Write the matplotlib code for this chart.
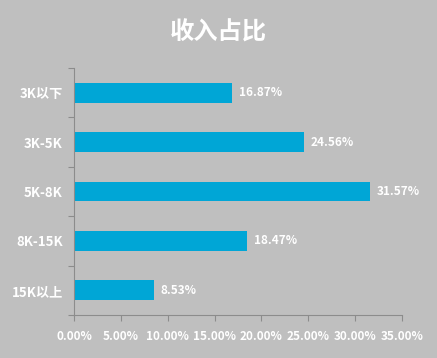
import numpy as np
import matplotlib
matplotlib.use("Agg")
import matplotlib.pyplot as plt
from matplotlib.ticker import FuncFormatter, FixedLocator

plt.rcParams['font.family'] = ['Noto Sans CJK SC', 'DejaVu Sans']

categories = ['3K以下', '3K-5K', '5K-8K', '8K-15K', '15K以上']
values = [16.87, 24.56, 31.57, 18.47, 8.53]
xticks = [0, 5, 10, 15, 20, 25, 30, 35]

bg = '#BFBFBF'
bar_color = '#00A6D6'
axis_color = '#8C8C8C'

fig = plt.figure(figsize=(4.37, 3.58), dpi=100, facecolor=bg)
ax = fig.add_axes([74 / 437, 1 - 315 / 358, 328 / 437, 247 / 358])
ax.set_facecolor(bg)

y = np.arange(len(categories))
ax.barh(y, values, height=0.4, color=bar_color, zorder=2)
for yi, v in zip(y, values):
    ax.text(v + 0.7, yi, f'{v:.2f}%', va='center', ha='left',
            color='white', fontsize=8.5, fontweight='bold')

ax.set_ylim(len(categories) - 0.5, -0.5)
ax.set_xlim(0, 35)
ax.set_yticks(y)
ax.set_yticklabels(categories)
ax.yaxis.set_minor_locator(FixedLocator(np.arange(-0.5, len(categories), 1)))
ax.tick_params(axis='y', which='major', length=0, pad=8, labelsize=9.5, labelcolor='white')
ax.tick_params(axis='y', which='minor', length=4, color=axis_color, width=0.8)
ax.set_xticks(xticks)
ax.xaxis.set_major_formatter(FuncFormatter(lambda v, p: f'{v:.2f}%'))
ax.tick_params(axis='x', length=4, color=axis_color, width=0.8, pad=7,
               labelsize=8.5, labelcolor='white')
for lbl in ax.get_xticklabels() + ax.get_yticklabels():
    lbl.set_fontweight('bold')

for s in ['top', 'right']:
    ax.spines[s].set_visible(False)
for s in ['left', 'bottom']:
    ax.spines[s].set_color(axis_color)
    ax.spines[s].set_linewidth(0.8)

fig.text(0.5, 1 - 33 / 358, '收入占比', ha='center', va='center',
         color='white', fontsize=17.5, fontweight='bold')

fig.savefig('out.png', dpi=100, facecolor=bg)
